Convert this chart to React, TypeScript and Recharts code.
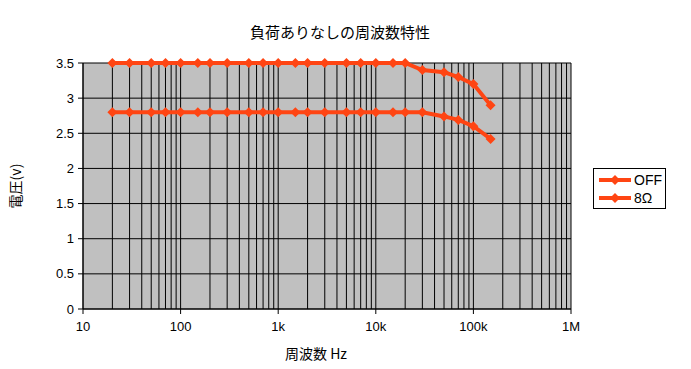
import React from 'react';
import { LineChart, Line, XAxis, YAxis, CartesianGrid } from 'recharts';

// 周波数 (Hz)
const freqs = [20, 30, 50, 70, 100, 150, 200, 300, 500, 700, 1000, 1500, 2000, 3000, 5000, 7000, 10000, 15000, 20000, 30000, 50000, 70000, 100000, 150000];
// 電圧 (V)
const offVolts = [3.5, 3.5, 3.5, 3.5, 3.5, 3.5, 3.5, 3.5, 3.5, 3.5, 3.5, 3.5, 3.5, 3.5, 3.5, 3.5, 3.5, 3.5, 3.5, 3.4, 3.37, 3.3, 3.2, 2.9];
const ohm8Volts = [2.8, 2.8, 2.8, 2.8, 2.8, 2.8, 2.8, 2.8, 2.8, 2.8, 2.8, 2.8, 2.8, 2.8, 2.8, 2.8, 2.8, 2.8, 2.8, 2.8, 2.74, 2.69, 2.6, 2.42];
const seriesNames = ['OFF', '8Ω'];

const majorTicks = [10, 100, 1000, 10000, 100000, 1000000];
const majorLabels = ['10', '100', '1k', '10k', '100k', '1M'];
const yTicks = [0, 0.5, 1, 1.5, 2, 2.5, 3, 3.5];

// log grid: 1..9 x each decade
const gridTicks: number[] = [];
for (let d = 10; d < 1000000; d *= 10) {
    for (let k = 1; k <= 9; k++) gridTicks.push(k * d);
}
gridTicks.push(1000000);

const data = freqs.map((f, i) => ({ f, off: offVolts[i], ohm8: ohm8Volts[i] }));

const COLOR = '#FF4513';
const numFont = '"Liberation Sans", Arial, sans-serif';
const jpFont = '"Noto Sans CJK JP", sans-serif';

const Diamond = (props: any) => {
    const { cx, cy, index } = props;
    if (cx == null || cy == null) return <g key={index} />;
    return (
        <polygon key={index}
            points={`${cx},${cy - 5} ${cx + 5},${cy} ${cx},${cy + 5} ${cx - 5},${cy}`}
            fill={COLOR} stroke="none" />
    );
};

const XTick = (props: any) => {
    const { x, y, payload } = props;
    const idx = majorTicks.indexOf(payload.value);
    if (idx < 0) return <g />;
    return (
        <g>
            <line x1={x} y1={y} x2={x} y2={y + 5} stroke="#000" />
            <text x={x} y={y + 22} textAnchor="middle" fontSize={13} fontFamily={numFont} fill="#000">
                {majorLabels[idx]}
            </text>
        </g>
    );
};

const LegendBox = () => (
    <div style={{
        position: 'absolute', left: 593, top: 168, width: 71, height: 39,
        border: '1px solid #000', background: '#fff',
    }}>
        {seriesNames.map((n, i) => (
            <div key={n} style={{ position: 'absolute', left: 4, top: 3 + i * 18, height: 16, display: 'flex', alignItems: 'center' }}>
                <svg width={34} height={16}>
                    <line x1={1} y1={8} x2={33} y2={8} stroke={COLOR} strokeWidth={4} />
                    <polygon points="17,3 22,8 17,13 12,8" fill={COLOR} />
                </svg>
                <span style={{ fontFamily: numFont, fontSize: 14, marginLeft: 2, lineHeight: '16px' }}>{n}</span>
            </div>
        ))}
    </div>
);

const App = () => {
    return (
        <div style={{ position: 'absolute', left: 0, top: 0, width: 691, height: 369, background: '#fff' }}>
            <LineChart width={691} height={369} data={data}
                margin={{ top: 63, right: 120, bottom: 0, left: 0 }}>
                <CartesianGrid fill="#C0C0C0" stroke="#000" strokeOpacity={1} />
                <XAxis dataKey="f" type="number" scale="log" domain={[10, 1000000]}
                    ticks={gridTicks} interval={0} height={60} tick={<XTick />}
                    tickLine={false} tickSize={0} tickMargin={0}
                    axisLine={{ stroke: '#000' }} allowDataOverflow />
                <YAxis type="number" domain={[0, 3.5]} ticks={yTicks} width={83} interval={0}
                    tickSize={5} tickMargin={4}
                    tick={{ fontSize: 13, fontFamily: numFont, fill: '#000' }}
                    tickLine={{ stroke: '#000' }} axisLine={{ stroke: '#000' }} />
                <Line dataKey="off" name={seriesNames[0]} stroke={COLOR} strokeWidth={4}
                    dot={Diamond} activeDot={false} isAnimationActive={false} />
                <Line dataKey="ohm8" name={seriesNames[1]} stroke={COLOR} strokeWidth={4}
                    dot={Diamond} activeDot={false} isAnimationActive={false} />
            </LineChart>
            <div style={{
                position: 'absolute', left: 0, top: 23, width: 680, textAlign: 'center',
                fontFamily: jpFont, fontSize: 15, lineHeight: '18px',
            }}>負荷ありなしの周波数特性</div>
            <div style={{
                position: 'absolute', left: 216, top: 344, width: 200, textAlign: 'center',
                fontFamily: jpFont, fontSize: 14, lineHeight: '18px',
            }}>周波数 Hz</div>
            <div style={{
                position: 'absolute', left: -35, top: 177, width: 100, textAlign: 'center',
                fontFamily: jpFont, fontSize: 14, lineHeight: '18px', transform: 'rotate(-90deg)',
            }}>電圧(v)</div>
            <LegendBox />
        </div>
    );
};

export default App;
